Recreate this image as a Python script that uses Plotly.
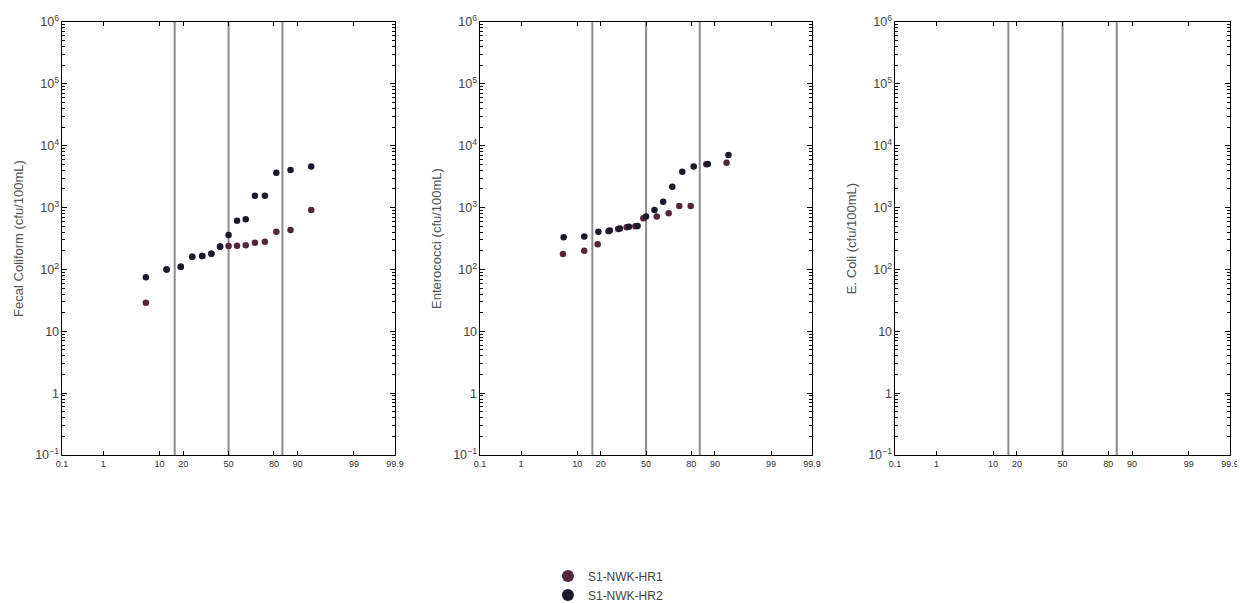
import plotly.graph_objects as go
from statistics import NormalDist

# ---------------- data ----------------
# plotting positions (non-exceedance probability, %)
fc_hr1_pct = [6.25, 12.5, 18.75, 25.0, 31.25, 37.5, 43.75, 50.0, 56.25, 62.5, 68.75, 75.0, 81.25, 87.5, 93.75]
fc_hr1 = [29, 100, 110, 160, 165, 180, 232, 240, 242, 245, 270, 280, 405, 435, 915]
fc_hr2_pct = [6.25, 12.5, 18.75, 25.0, 31.25, 37.5, 43.75, 50.0, 56.25, 62.5, 68.75, 75.0, 81.25, 87.5, 93.75]
fc_hr2 = [75, 100, 110, 160, 165, 180, 235, 360, 610, 650, 1550, 1550, 3650, 4050, 4600]

ent_hr1_pct = [6.1, 12.5, 18.4, 24.2, 30.2, 35.9, 42.1, 48.0, 57.9, 66.3, 73.2, 79.7, 86.9, 93.3]
ent_hr1 = [178, 201, 255, 415, 450, 480, 500, 670, 715, 810, 1060, 1060, 5000, 5300]
ent_hr2_pct = [6.25, 12.5, 18.75, 25.0, 31.25, 37.5, 43.75, 50.0, 56.25, 62.5, 68.75, 75.0, 81.25, 87.5, 93.75]
ent_hr2 = [330, 340, 405, 425, 460, 490, 505, 715, 915, 1245, 2180, 3800, 4600, 5050, 7100]

ec_hr1_pct = []
ec_hr1 = []
ec_hr2_pct = []
ec_hr2 = []

series_names = ["S1-NWK-HR1", "S1-NWK-HR2"]
y_titles = ["Fecal Coliform (cfu/100mL)", "Enterococci (cfu/100mL)", "E. Coli (cfu/100mL)"]
prob_ticks = [0.1, 1, 10, 20, 50, 80, 90, 99, 99.9]
prob_tick_text = ["0.1", "1", "10", "20", "50", "80", "90", "99", "99.9"]
sigma_lines_pct = [15.87, 50.0, 84.13]
prob_range = [0.1, 99.9]
log_range = [-1, 6]

# ---------------- styling ----------------
colors = ["#55263a", "#1a1a2a"]
nd = NormalDist()


def z(p):
    return nd.inv_cdf(p / 100.0)


x_domains = [[0.0437, 0.3129], [0.3816, 0.6500], [0.7171, 0.9879]]
y_domain = [0.2487, 0.9765]

panels = [
    [(fc_hr1_pct, fc_hr1), (fc_hr2_pct, fc_hr2)],
    [(ent_hr1_pct, ent_hr1), (ent_hr2_pct, ent_hr2)],
    [(ec_hr1_pct, ec_hr1), (ec_hr2_pct, ec_hr2)],
]

fig = go.Figure()
for i, panel in enumerate(panels):
    sfx = "" if i == 0 else str(i + 1)
    for j, (pct, vals) in enumerate(panel):
        fig.add_trace(go.Scatter(
            x=[z(p) for p in pct], y=vals, mode="markers",
            name=series_names[j], legendgroup=series_names[j],
            showlegend=(i == 0),
            marker=dict(color=colors[j], size=6.5, line=dict(width=0)),
            xaxis="x" + sfx, yaxis="y" + sfx,
        ))
    for p in sigma_lines_pct:
        fig.add_shape(type="line", xref="x" + sfx, yref="y" + sfx + " domain",
                      x0=z(p), x1=z(p), y0=0, y1=1,
                      line=dict(color="#8c8c8c", width=2), layer="below")

layout = dict(
    width=1237, height=595, autosize=False,
    margin=dict(l=0, r=0, t=0, b=0, autoexpand=False),
    paper_bgcolor="white", plot_bgcolor="white",
    font=dict(family="Liberation Sans, Arial, sans-serif", color="#333"),
    legend=dict(x=0.4365, y=0.0696, xanchor="left", yanchor="top",
                font=dict(size=12, color="#444"), itemsizing="constant",
                bgcolor="rgba(0,0,0,0)", tracegroupgap=0),
)
for i in range(3):
    sfx = "" if i == 0 else str(i + 1)
    layout["xaxis" + sfx] = dict(
        domain=x_domains[i], anchor="y" + sfx, automargin=False,
        range=[z(prob_range[0]), z(prob_range[1])],
        tickvals=[z(p) for p in prob_ticks], ticktext=prob_tick_text,
        ticks="inside", ticklen=4, tickcolor="black",
        showline=True, linecolor="black", linewidth=1, mirror="ticks",
        showgrid=False, zeroline=False,
        tickfont=dict(size=9, color="#333"),
    )
    layout["yaxis" + sfx] = dict(
        domain=y_domain, anchor="x" + sfx, type="log", automargin=False,
        range=log_range, dtick=1, exponentformat="power",
        ticks="inside", ticklen=5, tickcolor="black",
        minor=dict(ticks="inside", ticklen=3, tickcolor="black", showgrid=False),
        showline=True, linecolor="black", linewidth=1, mirror="ticks",
        showgrid=False, zeroline=False,
        tickfont=dict(size=10, color="#444"),
        title=dict(text=y_titles[i], font=dict(size=13, color="#555"), standoff=8),
    )
fig.update_layout(**layout)
fig.write_html("out.html")
